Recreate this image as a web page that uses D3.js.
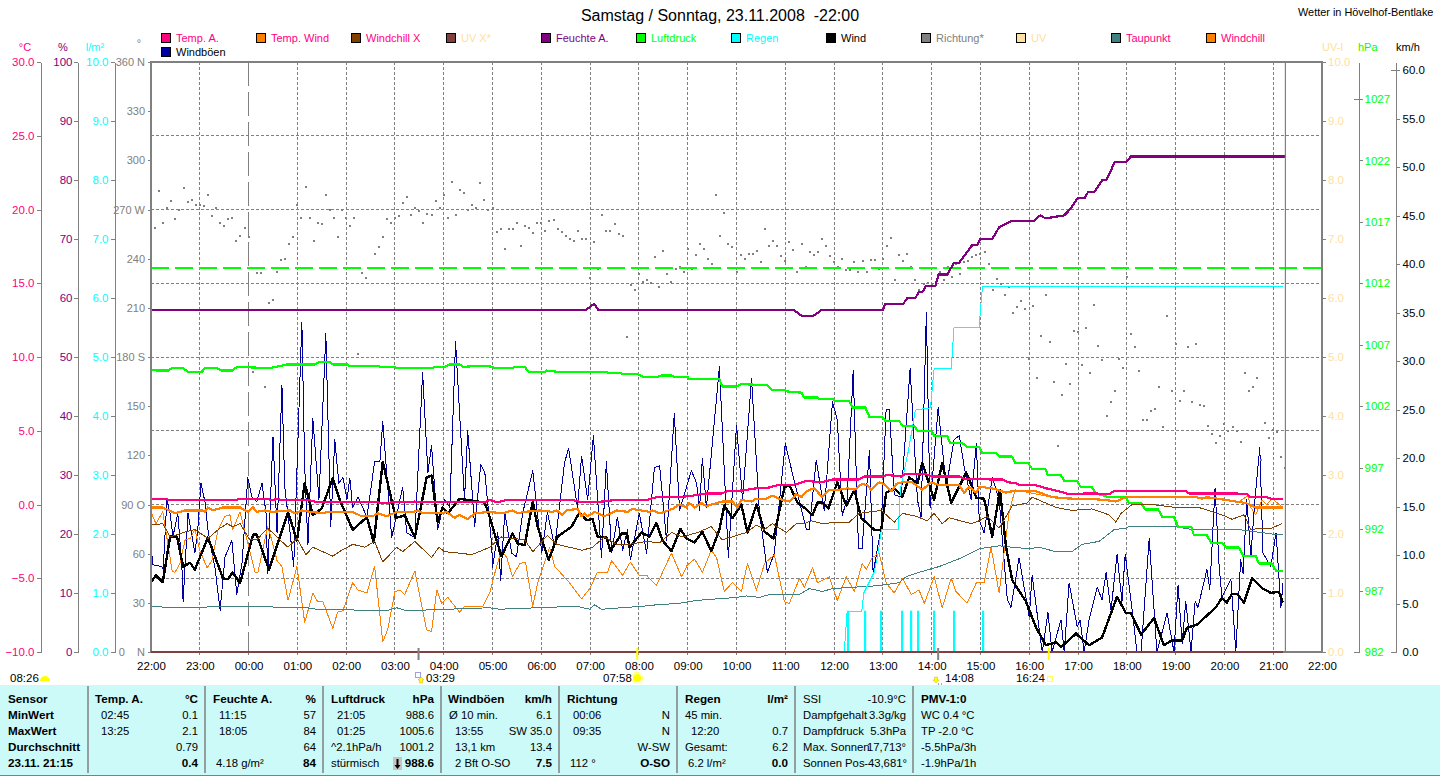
<!DOCTYPE html>
<html><head><meta charset="utf-8">
<style>
html,body{margin:0;padding:0;background:#fff;overflow:hidden}
svg{display:block}
text{font-family:"Liberation Sans",Arial,sans-serif;font-size:11px}
.ln{fill:none;stroke-linejoin:round;shape-rendering:crispEdges}
</style>
<script src="https://cdn.jsdelivr.net/npm/d3@7"></script>
</head><body><svg id="c" width="1440" height="776"></svg>
<script>
// time = 5-minute slots after 22:00, [slot, value]
const hourLabels=["22:00","23:00","00:00","01:00","02:00","03:00","04:00","05:00","06:00","07:00","08:00","09:00","10:00","11:00","12:00","13:00","14:00","15:00","16:00","17:00","18:00","19:00","20:00","21:00","22:00"];
const tempTicks=[30,25,20,15,10,5,0,-5,-10];
const humTicks=[100,90,80,70,60,50,40,30,20,10,0];
const rainTicks=[10,9,8,7,6,5,4,3,2,1,0];
const dirTicks=[360,330,300,270,240,210,180,150,120,90,60,30,0];
const dirNames={360:"360 N",270:"270 W",180:"180 S",90:"90 O",0:"0\u00a0\u00a0\u00a0\u00a0N"};
const pressTicks=[1027,1022,1017,1012,1007,1002,997,992,987,982];
const kmhTicks=[60,55,50,45,40,35,30,25,20,15,10,5,0];
const dirHGrid=[315,270,225,180,135,90,45];

const tempA=[[0,.37],[3.9,.37],[4.2,.3],[21.1,.3],[21.4,.37],[28.7,.37],[29.7,.3],[31.2,.37],[32.2,.3],[39,.3],[40.8,.15],[55.8,.15],[56.3,.1],[58.7,.1],[59.5,.2],[63.6,.15],[64.9,.2],[65.6,.15],[82,.15],[83.3,.3],[85,.15],[87.5,.3],[103.7,.3],[105.9,.15],[111,.2],[114,.3],[121.9,.3],[124.3,.5],[130,.5],[133.2,.6],[136.6,.75],[140.3,.75],[141.8,.9],[145.5,.95],[148.9,1.1],[151.3,1.1],[154,1.3],[157.7,1.3],[161.2,1.6],[165,1.5],[167.6,1.7],[174.2,1.7],[175.4,1.9],[179.9,1.9],[181,2],[184.5,1.9],[185.3,2.05],[190.7,2.05],[192.1,1.9],[198.8,1.9],[200,1.75],[205.4,1.75],[206.1,1.7],[209.3,1.7],[211,1.5],[212.8,1.45],[213.5,1.3],[217.7,1.3],[220.1,1.1],[223.3,.9],[225.8,.7],[228.7,.7],[229.5,.75],[232.7,.75],[232.9,.7],[235.6,.7],[236.8,.9],[254.5,.9],[255.3,.75],[266.8,.75],[269.5,.7],[270.5,.5],[274.4,.5],[275.7,.37],[278.4,.37]];
const tempWind=[[0,-.2],[2.9,-.2],[5.9,-.6],[8.4,-.4],[12.5,-.4],[13.3,-.5],[14,-.2],[15.2,-.4],[17.7,-.2],[18.9,-.2],[20.6,-.2],[21.9,-.2],[23.8,-.5],[25.1,-.2],[26,-.5],[28,-.4],[29.7,-.5],[34.2,-.4],[35.4,-.6],[37.1,-.4],[39.1,-.5],[42.8,-.6],[43.2,-.5],[49.6,-.5],[51.8,-.8],[54.5,-.8],[55.8,-.6],[58,-.8],[60.4,-.5],[64.4,-.5],[65.6,-.4],[66.8,-.6],[71.5,-.6],[72.7,-.5],[74.7,-.9],[75.9,-.7],[77.9,-1],[79.6,-.6],[83.3,-.5],[86.5,-.6],[88.9,-.4],[90.2,-.6],[91.9,-.5],[95.6,-.4],[98.8,-.5],[99.8,-.4],[101,-.7],[102.2,-.4],[104.9,-.3],[105.9,-.8],[106.6,-.6],[107.4,-.8],[109.1,-.5],[111.5,-.8],[114.5,-.4],[117.2,-.5],[118.4,-.3],[122.6,-.5],[123.3,-.4],[125.1,-.6],[128.3,-.3],[130,0],[131.7,-.2],[132.4,.1],[133.7,-.2],[135.4,.1],[136.6,-.1],[140.5,.2],[143,.2],[144.2,-.2],[145.2,.3],[147.7,.2],[148.9,.4],[151.3,.4],[152.8,.6],[155.3,.3],[157,.2],[158.7,.7],[160,.5],[161.2,.9],[163.1,1.1],[165.1,.5],[166.8,1],[169.3,1],[171.3,1.1],[173,1],[174.9,1.4],[176.2,1.3],[177.1,1],[179.1,1.5],[180.3,1.4],[182.1,.9],[183.3,1.4],[184.8,1.5],[187.2,1.5],[189.7,1],[191.9,1.5],[193.9,1.3],[198.8,1.3],[200,.8],[201.2,1.2],[203,.8],[203.7,1.2],[206.9,1.1],[210.3,.8],[211.8,.9],[217.7,.9],[221.6,.5],[225.8,.4],[230,.4],[234.9,.3],[237.3,.2],[239.8,.5],[257,.5],[258.5,.4],[259.7,.5],[264.6,.3],[266.8,.2],[269.3,.1],[271.7,-.2],[275.7,-.2],[278.4,-.2]];
const windchillX=[[0,-1.4],[2.9,-1.3],[4.7,-2.2],[7.9,-1.9],[10.8,-1.7],[14,-2.3],[17,-1.6],[18.7,-1.3],[20.1,-1.5],[21.9,-1.3],[24.3,-2.4],[26,-2.4],[28.7,-1.6],[31.7,-2.4],[33.7,-2.9],[35.9,-2.3],[38.1,-3.4],[39.8,-2.9],[44.7,-3.5],[46.9,-3.1],[49.6,-2.7],[52.6,-2.9],[55,-2.5],[57,-3.9],[60.4,-2.9],[61.9,-3.2],[64.9,-2.5],[69,-3.6],[70.8,-2.9],[72.2,-3.2],[75.9,-3.3],[78.9,-3.4],[83.3,-2.9],[86.2,-2.2],[91.9,-2.4],[93.9,-3.2],[97.5,-2.1],[99.8,-2.7],[102.9,-2.9],[106.1,-3.1],[108.6,-2.9],[111.5,-2.2],[114.5,-2.7],[117.7,-2.7],[121.9,-2.5],[125.1,-2.6],[128,-1.9],[130.7,-2.2],[134.4,-1.9],[137.8,-1.5],[140.5,-2.4],[146.4,-1.9],[148.9,-1.4],[150.9,-1.7],[152.8,-1.3],[156.3,-1.9],[158.7,-1.3],[160.7,-1.3],[162.4,-1.1],[165.1,-1.3],[168.8,-1.2],[171.7,-1.2],[174.2,-.6],[179.6,-.4],[182.8,-1.2],[184.8,-.6],[188.2,-.8],[190.9,-1.1],[192.6,-.6],[194.6,-1.3],[196.3,-.9],[201.7,-1.3],[203.7,-1.1],[205.6,-.8],[208.6,-1.6],[210.3,-.8],[211.8,-.1],[215.5,.1],[216.7,.5],[219.2,.2],[222.6,-.2],[226.5,-.4],[231.4,-.3],[235.6,-.7],[237.3,-1.2],[238.6,-.6],[241.3,0],[246.2,0],[252.1,-.2],[257.7,-.2],[263.4,-.7],[265.9,-1],[268.8,-.7],[270.5,-1.7],[273.2,-1.6],[275.7,-1.6],[278.1,-1.3]];
const windchill=[[0,-.5],[1.2,-1.3],[2.9,-.5],[5.2,-4.5],[5.9,-4.6],[7.1,-4],[8.4,-2.4],[9.6,-2.3],[10.8,-1.7],[12,-3.1],[13.8,-4.3],[15,-3.8],[16.5,-1.7],[18.2,-.8],[19.4,-.7],[20.1,-1.7],[21.9,-.5],[23.6,-2.4],[25.6,-4.6],[26.3,-4.6],[28,-2.4],[28.7,-1.5],[29.7,-2.4],[31,-3.8],[32.2,-4.2],[33.7,-6.5],[35.9,-4.2],[37.8,-8],[39.8,-6],[41,-6.6],[42.3,-6.6],[44.7,-8.4],[45.9,-7.3],[47.2,-7.2],[49.6,-5.3],[50.9,-5.8],[53.1,-6],[55,-4.2],[57,-9.3],[58.2,-8.5],[60,-5.9],[61.2,-5.8],[62.4,-6.1],[64.9,-4.5],[67.8,-8.5],[69,-8.6],[70.3,-5.8],[71.5,-6.7],[73,-6.3],[75.9,-7.3],[77.1,-6.9],[81.6,-6.9],[83.3,-6],[85,-4.2],[86.2,-3.1],[87.5,-3.6],[88.9,-4.9],[90.7,-4],[92.1,-3.9],[93.9,-6.9],[95.1,-5.3],[98,-2.9],[99.3,-4.2],[102.9,-5.3],[105.9,-6.4],[107.9,-5.7],[109.8,-4.6],[112.3,-4.6],[113.3,-3.8],[116,-4.8],[117.9,-3.9],[120.1,-4.8],[121.9,-4.8],[124.3,-5.5],[128,-3.3],[130.5,-4.9],[131.9,-4.1],[133.7,-3.7],[135.6,-4.6],[137.8,-3.1],[139.1,-3.6],[141,-5.9],[143,-5.3],[145.2,-5.9],[146.7,-4],[148.9,-5.8],[150.9,-4],[153.3,-3.4],[155.8,-6.6],[157,-6.7],[159.5,-5],[160.7,-5.6],[162.7,-4.3],[163.9,-5.3],[166.8,-4.9],[168.8,-6.5],[171,-4.9],[173,-5.9],[174.9,-4],[175.9,-4.4],[177.4,-3.6],[179.1,-3.3],[180.8,-5.3],[182.8,-6],[184.8,-5],[187,-6.1],[188.9,-5.8],[190.2,-6.7],[192.6,-4.9],[194.6,-7],[196.8,-5],[198,-5.9],[200.7,-6.7],[203,-5.3],[204.9,-5.3],[206.6,-2.9],[208.6,-6],[211,-.6],[212.5,1],[221.6,.5],[230,.4],[237.3,.2],[239.8,.5],[257,.5],[264.6,.3],[267.6,.2],[269.8,.6],[270.5,-.2],[271.7,-.7],[273.2,.3],[274.4,0],[275.7,.4],[278.4,-.2]];
const dewPoint=[[0,-6.9],[5.4,-7],[21.9,-6.9],[38.3,-7],[40.8,-7.1],[58,-7.2],[60.4,-7],[62.9,-7.2],[83.3,-7],[85.7,-7.1],[104.7,-6.9],[107.9,-7.1],[109.1,-6.8],[110.8,-7.1],[120.9,-6.9],[124.3,-6.8],[130,-6.7],[134.2,-6.5],[144,-6.3],[146.4,-6.2],[149.6,-6.3],[152.1,-6.1],[159.5,-6.1],[161.9,-5.7],[165.1,-5.9],[167.6,-5.7],[179.1,-5.5],[184,-5.3],[185.7,-4.9],[188.9,-4.6],[191.4,-4.4],[193.9,-4.2],[199.5,-3.6],[203.7,-3],[208.6,-2.8],[211.8,-2.9],[216,-3],[218.4,-2.9],[222.6,-3.2],[226.5,-3.2],[229,-2.7],[233.2,-2.5],[236.9,-1.7],[239.8,-1.6],[240.5,-1.5],[252.1,-1.5],[256,-1.7],[267.6,-1.7],[275.7,-2],[278.4,-2]];
const humidity=[[0,58],[107,58],[109,59],[110,58],[158,58],[160,57],[163,57],[165,58],[180,58],[180.6,59],[185,59],[186,60],[188,60],[188.8,61],[189.7,61],[190.6,62],[192.9,62],[193.7,64],[195.9,64],[197.5,66],[198.8,66],[202,69],[203.2,69],[204,70],[206.9,70],[208.6,72],[211.5,73],[217,73],[218.7,74],[220,73.5],[224.6,74],[226,75],[228,77],[229.7,77],[230.5,78],[232,78],[234,80],[235,80],[237,83],[239.8,83],[241,84],[279,84]];
const pressure=[[0,1005],[1.5,1004.9],[4.2,1004.9],[5.2,1005.1],[7.9,1005.1],[9.1,1004.8],[12.5,1004.8],[13.3,1005.1],[16.2,1005.1],[17.4,1004.9],[20.1,1004.9],[21.1,1005.2],[29.2,1005.1],[32.2,1005.3],[33.4,1005.4],[40.3,1005.4],[41.5,1005.6],[44,1005.6],[44.7,1005.4],[48.2,1005.4],[48.6,1005.3],[55.8,1005.3],[56.5,1005.2],[60,1005.2],[60.4,1005.1],[69,1005.1],[69.8,1005.2],[72.2,1005.2],[73.5,1005.4],[75.9,1005.4],[76.7,1005.2],[81.6,1005.3],[84,1005.2],[84.6,1005.1],[88.9,1005.1],[89.4,1005.2],[91.9,1005.2],[92.9,1004.8],[96.8,1004.8],[97.3,1004.9],[100,1004.8],[112,1004.8],[112.3,1004.7],[115.7,1004.7],[116,1004.6],[119.9,1004.6],[120.9,1004.4],[124.6,1004.4],[125.6,1004.5],[128,1004.5],[128.5,1004.4],[131.9,1004.4],[132.4,1004.2],[139.8,1004.2],[140.5,1003.6],[144,1003.6],[145.2,1003.8],[151.6,1003.7],[152.8,1003.3],[155.8,1003.3],[156.5,1003.2],[160,1003.1],[160.7,1002.7],[163.9,1002.7],[164.4,1002.6],[167.6,1002.6],[168.5,1002.4],[171.7,1002.4],[172.5,1001.9],[175.7,1001.9],[176.7,1001.1],[179.9,1001.1],[180.6,1000.8],[184,1000.8],[184.8,1000.4],[187.7,1000.4],[188.5,1000],[191.9,1000],[192.6,999.6],[195.8,999.6],[196.5,999],[199.5,999],[200.7,998.7],[203.7,998.7],[204.4,998.2],[207.9,998.2],[208.6,997.9],[211.8,997.9],[212.5,997.4],[215.7,997.4],[216.7,996.9],[219.9,996.9],[220.6,996.4],[223.8,996.4],[224.6,995.9],[227.8,995.9],[228.7,995.4],[231.4,995.4],[232.4,994.9],[235.6,994.6],[239.8,994.6],[240.5,994.1],[243.5,994.1],[244.5,993.6],[247.7,993.6],[248.7,993],[251.6,993],[252.6,992.2],[255.8,992.2],[256.5,991.5],[259.7,991.5],[260.7,990.9],[263.4,990.9],[264.6,990.5],[267.6,990.5],[268.6,989.8],[271.7,989.8],[272.5,989.2],[275.7,989.2],[276.7,988.6],[278.4,988.6]];
const stdPressure=[[0,1013.25],[288,1013.25]];
const rainTotal=[[170.5,0],[171.2,.68],[174.8,.68],[175.3,1],[177.9,1.36],[178.9,1.7],[179.6,2.07],[183.8,2.07],[184.3,2.75],[186.3,3.42],[188,4.1],[191.7,4.14],[192.6,4.8],[196.8,4.8],[197.5,5.5],[203.7,5.5],[204,5.8],[204.5,6.2],[278.4,6.2]];
const rainBars=[171.5,175.7,179.6,184.8,186.8,188.7,192.6,197.5,204.6];
const rainBarValue=.7;
const uvA=[[0,0],[278.4,0]];
const wind=[[0,7.2],[1.2,7.9],[2.9,7.2],[4.7,11.9],[6.4,11.9],[7.9,8.8],[9.6,9.2],[10.8,8.5],[14,11.8],[17.7,7.6],[18.9,7.5],[20.1,8.2],[21.9,7.1],[25.1,12.1],[26,12.1],[29,8.5],[33.7,14.4],[35.9,11.5],[37.8,17.4],[39.8,14.1],[42,14.8],[44.7,17.9],[46.4,15.7],[49.6,12.6],[53.1,13.9],[54.8,11.3],[57,19.6],[60.2,13.8],[62.4,14.1],[64.9,11.8],[67.8,18],[69,18.2],[70.5,13.4],[71.7,14.9],[73,14.3],[75.9,15.8],[82.1,15.4],[83.3,13.9],[85,11.5],[86.2,9.9],[88.9,12.2],[90.2,11.2],[91.9,11],[93.9,15.5],[95.1,12.9],[97.8,9.5],[100,11.9],[103.4,12.9],[105.4,14.4],[107.1,13.6],[108.6,13.7],[109.8,11.9],[112,11.8],[113,10.4],[115.7,12.2],[117,12.2],[117.7,10.8],[120.6,12.3],[122.6,11.9],[124.3,13.3],[125.8,11.5],[128,10.4],[130.2,12.7],[131.7,11.7],[133.7,11.3],[135.6,12.4],[137.8,10.4],[139.8,12.6],[141,15.1],[143,13.8],[145.2,15.2],[146.7,12.3],[148.9,15.2],[150.9,12.4],[153.1,11.7],[155.8,17],[157,17.2],[159,15.4],[161.2,14.7],[162.7,14.1],[163.9,15.4],[165.1,15.4],[166.6,14.8],[168.8,17.5],[171,15.1],[173,16.7],[174.7,13.8],[177.9,12.6],[179.6,12.6],[180.8,16.4],[182.8,16.9],[184.8,16],[186.5,18],[188.5,17.4],[189.7,19.5],[192.6,15.7],[194.6,19.5],[196.8,15.4],[200.5,18.5],[203,15.9],[204.9,15.8],[206.9,11.9],[208.8,16.7],[210.3,10.8],[211.8,7.4],[215.2,5.2],[217.7,2.5],[220.1,.7],[222.6,1],[223.8,.5],[227.5,1.9],[230.7,.7],[233.9,1.5],[237.6,5.7],[239.8,4],[241,4],[243.5,1.8],[246.7,3.5],[249.1,.7],[251.1,1.2],[253.6,1.2],[254.8,2.5],[257.2,2.8],[261.9,4.6],[263.4,5.6],[264.6,5.1],[265.9,6],[267.1,6],[268.8,5.1],[270.8,7.6],[273.2,6.6],[275.4,6.1],[277.4,6.2],[278.4,5.1]];
const gust=[[0,10.7],[.5,9],[2.7,8.8],[3,8.5],[3.9,15.7],[4.7,14.3],[5.4,11.9],[6.6,14.3],[7.6,8.8],[7.9,5.2],[9.1,14.3],[10.8,10.2],[11.5,12.6],[12.3,17.4],[13.3,15.4],[14,12.6],[15,10.2],[15.7,8.8],[17,4.3],[18.2,9.8],[19.9,11.5],[21.1,5.9],[22.4,9.2],[23.8,18],[24.8,16],[26,15.5],[27.3,17.4],[28.3,14.3],[28.7,8.1],[30,22.2],[31,12.3],[32.2,27.5],[32.9,17],[34.2,12.3],[35.1,8.8],[37.1,34],[37.8,19.1],[38.6,11],[39.8,24.1],[41.3,15.7],[43,32.8],[44.2,12.9],[45.2,21.9],[46.2,17.4],[47.2,18],[48.2,15.7],[48.9,17.9],[49.6,14.9],[50.9,16],[53.1,13.9],[55,19.6],[56.3,19.6],[57,23.8],[59.2,11.8],[61.9,17],[62.9,12.3],[64.9,11.8],[66.8,28.8],[68.1,18.5],[69,21.3],[70.5,12.6],[72.2,15.7],[73.5,14.9],[74.9,32],[77.1,15.7],[77.9,22.8],[79.6,12.9],[81.1,19.3],[82.1,18.5],[83.8,11],[84,8.7],[85.3,12.3],[86,7.4],[87,14.4],[88.7,10.2],[89.9,9.8],[91.4,14.3],[93.9,18.7],[96.1,10.2],[97.5,14.4],[99.3,10.8],[101.7,19.5],[102.7,21],[104.9,14.9],[105.9,20.2],[107.4,15.7],[108.8,22.3],[110.8,9.7],[112,19.6],[113.3,10.2],[114.7,13.9],[116,10.5],[117.2,12.6],[117.9,9.5],[120.1,14.3],[121.9,10.2],[123.8,19],[125.1,19.2],[126.8,11.5],[128.7,24.6],[130,14.6],[132.9,18.7],[134.2,17.4],[134.9,14.6],[135.6,20],[136.6,14.9],[139.8,29.4],[142,9.7],[144,23.4],[145.5,15.7],[147.7,28.2],[149.6,14.6],[151.6,8.2],[153.3,10.2],[156,21.5],[157.7,18.5],[161.2,12.6],[161.9,12.6],[163.6,19.8],[165.6,14.6],[167.6,25.8],[168.8,23.9],[170,14.1],[171.2,15.7],[172.7,29],[174,10.7],[174.9,10.7],[176.7,20.8],[177.6,8.1],[179.6,12.9],[180.8,25],[181.6,25],[182.8,16.2],[184.5,16],[186.7,29.2],[188.5,15.7],[189.4,13.9],[190.7,35],[191.6,14.9],[193.6,25.2],[195.6,17],[197.5,21.9],[198.8,22.3],[200,19.1],[201.7,15.7],[203,21.5],[203.7,13.6],[204.9,12.3],[206.9,18],[208.6,15.7],[210.6,5.4],[211.5,4.6],[213.5,9.7],[216,3.6],[216.7,7.9],[219.2,0],[220.6,4.1],[221.6,0],[223.8,3.3],[224.6,0],[225.8,7.1],[227.8,2.6],[228.5,3.3],[229.5,0],[230.7,3.3],[232.7,6.7],[233.9,5.4],[234.9,8.2],[236.1,4.3],[237.6,10.1],[238.8,5.2],[239.6,10.1],[241.3,4.3],[242.5,0],[243.5,0],[245.5,11.7],[247.4,0],[249.9,4],[251.6,0],[252.6,6.9],[253.6,.9],[254.5,5.2],[255.8,0],[256.8,5.2],[257.5,4.6],[259.7,8.5],[260.4,6.4],[261.7,16.9],[262.7,8.8],[263.4,5.7],[265.6,7.5],[266.8,0],[268,9.5],[268.6,8.1],[269.5,15.7],[270.5,9.8],[271.5,15.7],[272.7,21.1],[273.5,10.2],[275.4,8.8],[276.7,12.3],[277.9,4.6],[278.4,7.1]];
// wind direction in degrees, one per 5-minute slot
const direction=[null,258.6,281,262,271,275,264,270,283,274.5,276,273,273,272,279,266,271,262,260,264,265,251,254,259,253,171,231,231,162,213,215,232,239,240,249,253,273,265,284,265,251,262,261,279,270,265,253,270,265,260,265,182,231,228,null,243,247,253,264,262,265,266,274,277.5,266.5,271,269,262,267,266.5,275,271,279,265,287,266.5,282,280,270,273,271,286,276,270,271,256,258,246,258,258,262,248,260,259,255.5,262,262,257,263,263.5,258,256,254,252,251,257,252,252,228,250,234,266.5,257,257,261,255,254,192,224,221,230.5,226,227,225,241,223,244.5,230.5,226,234,235,232,246,234,242,249,246,240,237,279,254,268,249,247,232,242,240,243,243,244.5,238,258,248,251,248,241.5,238.5,250,245,232,249,235,244,242,244,252,248,241.5,238,235,240,233,233,238,232,238.5,232,239,239,234,240,248,252.5,227,242,238.5,243,235,227,221,224.5,225,224.5,null,232,227,235,229,237,230.5,238,238.5,241,242,243,244,237,221,227.5,224.5,218,223,207,210.5,214,209,179,211,167,193,218,189,165,126,157,176,163.5,196,195,175,198,170,212,187,178,144,152.5,159,179,173,229,194,186,171.5,141.5,141.5,147,148,162,137,205,159,188,153,159,186,152.5,188,151,150,138,133,127.5,132,139,135,137,135,128,170,159,162,167,117,140,130.5,135.5,134,119,112];
const nowSlot=279;
const eventTicks=[{slot:65.8,color:"#808080"},{slot:119.6,color:"#ffff00"},{slot:193.6,color:"#808080"},{slot:220.8,color:"#ffff00"}];
const legendItems=[["Temp. A.","#ff0080","#ff0080"],["Temp. Wind","#ff8000","#ff0080"],["Windchill X","#804000","#ff0080"],["UV X*","#804040","#ffe0a0"],["Feuchte A.","#800080","#800080"],["Luftdruck","#00ff00","#00ff00"],["Regen","#00ffff","#00ffff"],["Wind","#000000","#000000"],["Richtung*","#808080","#808080"],["UV","#ffe0a0","#ffe0a0"],["Taupunkt","#408080","#ff0080"],["Windchill","#ff8000","#ff0080"]];
const legendItem2=["Windböen","#0000a0","#000000"];
// table: [x, row, text, bold, right-aligned]
const tableCols=[88,205,323,441,559,677,795,913];
const tableText=[
[8,0,"Sensor",1],[8,1,"MinWert",1],[8,2,"MaxWert",1],[8,3,"Durchschnitt",1],[8,4,"23.11. 21:15",1],
[95,0,"Temp. A.",1],[198,0,"°C",1,1],[101,1,"02:45"],[198,1,"0.1",0,1],[101,2,"13:25"],[198,2,"2.1",0,1],[198,3,"0.79",0,1],[198,4,"0.4",1,1],
[213,0,"Feuchte A.",1],[316,0,"%",1,1],[219,1,"11:15"],[316,1,"57",0,1],[219,2,"18:05"],[316,2,"84",0,1],[316,3,"64",0,1],[216,4,"4.18 g/m²"],[316,4,"84",1,1],
[331,0,"Luftdruck",1],[434,0,"hPa",1,1],[337,1,"21:05"],[434,1,"988.6",0,1],[337,2,"01:25"],[434,2,"1005.6",0,1],[331,3,"^2.1hPa/h"],[434,3,"1001.2",0,1],[331,4,"stürmisch"],[434,4,"988.6",1,1],
[448,0,"Windböen",1],[552,0,"km/h",1,1],[449,1,"Ø 10 min."],[552,1,"6.1",0,1],[455,2,"13:55"],[552,2,"SW 35.0",0,1],[455,3,"13,1 km"],[552,3,"13.4",0,1],[455,4,"2 Bft O-SO"],[552,4,"7.5",1,1],
[567,0,"Richtung",1],[573,1,"00:06"],[670,1,"N",0,1],[573,2,"09:35"],[670,2,"N",0,1],[670,3,"W-SW",0,1],[570,4,"112 °"],[670,4,"O-SO",1,1],
[685,0,"Regen",1],[788,0,"l/m²",1,1],[685,1,"45 min."],[691,2,"12:20"],[788,2,"0.7",0,1],[685,3,"Gesamt:"],[788,3,"6.2",0,1],[688,4,"6.2 l/m²"],[788,4,"0.0",1,1],
[803,0,"SSI"],[906,0,"-10.9°C",0,1],[803,1,"Dampfgehalt"],[906,1,"3.3g/kg",0,1],[803,2,"Dampfdruck"],[906,2,"5.3hPa",0,1],[803,3,"Max. Sonnen"],[906,3,"17,713°",0,1],[803,4,"Sonnen Pos"],[907,4,"-43,681°",0,1],
[921,0,"PMV-1:0",1],[921,1,"WC 0.4 °C"],[921,2,"TP -2.0 °C"],[921,3,"-5.5hPa/3h"],[921,4,"-1.9hPa/1h"]];
const eventLabels=[[10,"08:26"],[426,"03:29"],[603,"07:58"],[945,"14:08"],[1016,"16:24"]];

const svg=d3.select("#c");
const yTop=62,yBot=652,L=151,R=1322;
const x=d3.scaleLinear([0,288],[L,R]);
const yT=d3.scaleLinear([-10,30],[yBot,yTop]);
const yH=d3.scaleLinear([0,100],[yBot,yTop]);
const yR=d3.scaleLinear([0,10],[yBot,yTop]);
const yD=d3.scaleLinear([0,360],[yBot,yTop]);
const yU=d3.scaleLinear([0,10],[yBot,yTop]);
const yP=d3.scaleLinear([982,982+(yBot-yTop)/12.29],[yBot,yTop]);
const yK=d3.scaleLinear([0,(yBot-yTop)/9.7],[yBot,yTop]);
const GRAY="#808080";

// table background
svg.append("rect").attr("x",0).attr("y",685).attr("width",1440).attr("height",90).attr("fill","#ccfaf8");
svg.append("line").attr("x1",0).attr("x2",1440).attr("y1",775.5).attr("y2",775.5).attr("stroke",GRAY);

// grid
const grid=svg.append("g").attr("stroke",GRAY).attr("shape-rendering","crispEdges");
d3.range(12,288,12).forEach(s=>{
  const mid=s===24;
  grid.append("line").attr("x1",x(s)).attr("x2",x(s)).attr("y1",yTop).attr("y2",yBot+3)
    .attr("stroke-dasharray",mid?"24 6":"3 2").attr("stroke-width",mid?1.5:1);
});
dirHGrid.forEach(d=>grid.append("line").attr("x1",L).attr("x2",R).attr("y1",yD(d)).attr("y2",yD(d)).attr("stroke-dasharray","3 2"));

const line=(ys)=>d3.line().x(d=>x(d[0])).y(d=>ys(d[1]));
function draw(data,ys,color,w,dash){
  const p=svg.append("path").datum(data).attr("class","ln").attr("d",line(ys)).attr("stroke",color).attr("stroke-width",w);
  if(dash)p.attr("stroke-dasharray",dash);
}
// draw in reverse legend order
draw(gust,yK,"#0000a0",1);
draw(windchill,yT,"#ff8000",1);
draw(dewPoint,yT,"#408080",1);
svg.append("g").attr("fill",GRAY).selectAll("rect").data(direction.map((v,i)=>[i,v]).filter(d=>d[1]!==null)).join("rect")
  .attr("x",d=>Math.round(x(d[0]))-1).attr("y",d=>Math.round(yD(d[1]))-1).attr("width",2).attr("height",2);
draw(wind,yK,"#000000",2.4);
svg.append("g").attr("fill","#00ffff").selectAll("rect").data(rainBars).join("rect")
  .attr("x",d=>Math.round(x(d))-1).attr("width",2.2).attr("y",yR(rainBarValue)).attr("height",d=>yBot-yR(rainBarValue));
draw(rainTotal,yR,"#00ffff",1);
draw(stdPressure,yP,"#00ff00",1.2,"18 6");
draw(pressure,yP,"#00ff00",2.2);
draw(humidity,yH,"#800080",2.2);
draw(windchillX,yT,"#804000",1);
draw(tempWind,yT,"#ff8000",2.2);
draw(tempA,yT,"#ff0080",2.2);

// now marker and frame
svg.append("line").attr("x1",x(nowSlot)).attr("x2",x(nowSlot)).attr("y1",yTop).attr("y2",yBot).attr("stroke",GRAY).attr("stroke-width",1.2);
const frame=svg.append("g").attr("stroke",GRAY).attr("stroke-width",2).attr("shape-rendering","crispEdges");
frame.append("line").attr("x1",L).attr("x2",L).attr("y1",yTop-1).attr("y2",yBot+1);
frame.append("line").attr("x1",R).attr("x2",R).attr("y1",yTop-1).attr("y2",yBot+1);
frame.append("line").attr("x1",L).attr("x2",R).attr("y1",yTop).attr("y2",yTop);
frame.append("line").attr("x1",L).attr("x2",R).attr("y1",yBot).attr("y2",yBot);
draw(uvA,yU,"#804040",1.4);

// event ticks
svg.append("g").selectAll("line").data(eventTicks).join("line").attr("x1",d=>x(d.slot)).attr("x2",d=>x(d.slot)).attr("y1",yBot-4).attr("y2",yBot+8).attr("stroke",d=>d.color).attr("stroke-width",2);

// axes
function axis(fn,scale,ticks,at,color,opts={}){
  const g=svg.append("g").attr("transform",`translate(${at},0)`)
    .call(fn(scale).tickValues(ticks).tickSize(opts.size||4).tickSizeOuter(0).tickPadding(opts.pad||2).tickFormat(opts.fmt||d3.format(".1f")));
  g.selectAll("path,line").attr("stroke",GRAY).attr("shape-rendering","crispEdges");
  g.selectAll("text").attr("fill",color).style("font-size","11.5px");
  if(opts.noDomain)g.select("path").remove();
  return g;
}
axis(d3.axisLeft,yT,tempTicks,40.5,"#ff0080",{pad:2});
axis(d3.axisLeft,yH,humTicks,77.5,"#800080",{fmt:d3.format("d"),pad:1});
axis(d3.axisLeft,yR,rainTicks,114.5,"#00ffff",{pad:2});
axis(d3.axisLeft,yD,dirTicks,151,GRAY,{noDomain:1,fmt:d=>dirNames[d]||String(d),size:3,pad:3}).selectAll("text").style("font-size","11px");
axis(d3.axisRight,yU,rainTicks,1322,"#ffe0a0",{noDomain:1,pad:2});
const pa=axis(d3.axisRight,yP,pressTicks,1358.5,"#00ff00",{fmt:d3.format("d"),pad:2});
pa.selectAll(".tick line").attr("x1",d=>d===1027||d===982?-5:0).attr("x2",d=>d===982?0:4);
const ka=axis(d3.axisRight,yK,kmhTicks,1395.5,"#000000",{pad:3});
ka.selectAll(".tick line").attr("x1",d=>d===60||d===0?-5:0).attr("x2",d=>d===0?0:4);
const xa=svg.append("g").attr("transform",`translate(0,${yBot})`).call(d3.axisBottom(x).tickValues(d3.range(0,289,12)).tickSize(0).tickPadding(10).tickFormat((d,i)=>hourLabels[i]));
xa.select("path").remove();
xa.selectAll("text").attr("fill","#000").style("font-size","11.5px");

// text helpers
function T(xp,yp,s,color,o={}){
  return svg.append("text").attr("x",xp).attr("y",yp).text(s).attr("fill",color).attr("text-anchor",o.a||"start")
    .style("font-size",(o.s||11)+"px").style("font-weight",o.b?"bold":"normal");
}
T(720,21,"Samstag / Sonntag, 23.11.2008  -22:00","#000",{a:"middle",s:16}).style("white-space","pre");
T(1298,16,"Wetter in Hövelhof-Bentlake","#000",{s:10.9});
T(25,51,"°C","#ff0080",{a:"middle"});T(63,51,"%","#800080",{a:"middle"});T(95,51,"l/m²","#00ffff",{a:"middle"});T(139,47,"°",GRAY,{a:"middle"});
T(1322,51,"UV-I","#ffe0a0");T(1358,51,"hPa","#00ff00");T(1396,51,"km/h","#000");

// legend
legendItems.forEach((d,i)=>{
  const lx=161+i*95;
  svg.append("rect").attr("x",lx+.5).attr("y",33.5).attr("width",9).attr("height",9).attr("fill",d[1]).attr("stroke","#000").attr("shape-rendering","crispEdges");
  T(lx+15,42,d[0],d[2]);
});
svg.append("rect").attr("x",161.5).attr("y",47.5).attr("width",9).attr("height",9).attr("fill",legendItem2[1]).attr("stroke","#000").attr("shape-rendering","crispEdges");
T(176,56,legendItem2[0],legendItem2[2]);

// event row
eventLabels.forEach(d=>T(d[0],682,d[1],"#000",{s:11.5}));
const ev=svg.append("g");
ev.append("path").attr("d","M40 681a5 5 0 0 1 10 0z").attr("fill","#ffff00");
ev.append("rect").attr("x",415.5).attr("y",672.5).attr("width",5).attr("height",5).attr("fill","none").attr("stroke","#4040c0").attr("stroke-dasharray","1 1");
ev.append("path").attr("d","M421 677l3 3h-1.5v3h-3v-3h-1.5z").attr("fill","#ffff00").attr("stroke","#c0a000").attr("stroke-width",.4);
ev.append("circle").attr("cx",637).attr("cy",678).attr("r",4).attr("fill","#ffff00");
ev.append("circle").attr("cx",637).attr("cy",678).attr("r",5.5).attr("fill","none").attr("stroke","#ffff00").attr("stroke-dasharray","1 1");
ev.append("path").attr("d","M936 683l3-3h-1.5v-3h-3v3h-1.5z").attr("fill","#ffff00").attr("stroke","#c0a000").attr("stroke-width",.4);
ev.append("path").attr("d","M938 684h6").attr("stroke","#4040c0").attr("stroke-dasharray","1 2");
ev.append("rect").attr("x",1047.5).attr("y",676.5).attr("width",5).attr("height",5).attr("fill","none").attr("stroke","#ffff60");

// table
const rowY=r=>703+r*16;
tableCols.forEach(c=>svg.append("line").attr("x1",c).attr("x2",c).attr("y1",686).attr("y2",773).attr("stroke",GRAY).attr("stroke-width",1.5));
tableText.forEach(d=>T(d[0],rowY(d[1]),d[2],"#000",{b:d[3],a:d[4]?"end":"start",s:d[3]?11.7:11.3}));
svg.append("rect").attr("x",393).attr("y",757).attr("width",9).attr("height",13).attr("fill","#c8c4c4");
svg.append("path").attr("d","M396.5 759h2v6h2l-3 4l-3 -4h2z").attr("fill","#000");
</script></body></html>
